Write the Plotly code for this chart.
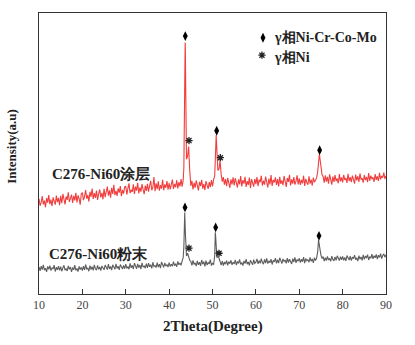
import plotly.graph_objects as go

# ---------------- data ----------------
grid_x = [round(10 + 0.25 * i, 2) for i in range(321)]

coat_grid_y = [
    33.9, 31.4, 32.6, 34.8, 31.9, 33.2, 30.9, 34.1, 32.5, 35.2, 32.0, 33.6, 31.3, 34.4, 33.0, 31.8, 35.0, 32.7, 34.2, 31.6,
    34.9, 32.3, 35.6, 33.1, 31.9, 34.7, 33.5, 36.2, 32.8, 34.0, 35.4, 32.4, 34.9, 33.3, 36.0, 32.6, 35.1, 33.9, 31.8, 35.7,
    36.1, 33.4, 34.7, 37.0, 33.9, 35.3, 32.9, 36.4, 34.6, 37.5, 33.8, 35.9, 34.2, 36.8, 33.5, 35.6, 37.2, 34.4, 36.0, 33.7,
    37.4, 34.5, 36.3, 38.2, 35.0, 36.9, 34.3, 37.8, 35.6, 38.9, 35.2, 36.7, 34.9, 37.6, 36.1, 38.4, 34.8, 37.0, 35.7, 38.1,
    38.3, 35.4, 37.6, 39.4, 35.9, 37.1, 36.3, 39.0, 35.6, 38.2, 36.8, 39.6, 35.8, 37.9, 36.4, 39.1, 37.2, 35.5, 38.6, 36.7,
    39.2, 36.4, 38.5, 40.3, 36.9, 38.0, 41.6, 36.6, 39.4, 37.3, 40.1, 36.8, 38.7, 37.5, 40.6, 36.9, 39.0, 37.8, 40.2, 37.1,
    39.5, 37.2, 38.9, 40.7, 37.4, 39.2, 38.0, 40.5, 37.6, 39.8, 38.3, 40.9, 38.2, 40.6, 58.0, 86.0, 48.0, 49.0, 52.5, 44.0,
    38.5, 40.3, 37.2, 39.6, 37.8, 40.4, 38.1, 36.9, 39.9, 38.4, 40.6, 37.5, 39.1, 37.0, 40.2, 38.6, 37.4, 39.8, 38.0, 40.5,
    38.3, 40.7, 42.0, 53.0, 51.5, 44.0, 44.5, 47.5, 42.5, 40.0, 41.6, 38.9, 40.9, 38.4, 41.3, 39.2, 37.8, 40.8, 39.0, 41.5,
    38.6, 41.2, 39.5, 37.9, 40.8, 39.0, 42.0, 38.3, 40.5, 39.3, 41.7, 38.1, 40.2, 38.8, 41.4, 37.7, 40.9, 39.6, 38.2, 41.0,
    39.1, 41.6, 38.4, 40.7, 39.8, 42.1, 38.6, 40.3, 38.9, 41.8, 39.4, 37.9, 41.1, 39.0, 42.3, 38.5, 40.6, 39.7, 41.5, 38.8,
    40.9, 38.3, 41.7, 39.2, 40.4, 38.7, 42.0, 39.5, 38.1, 41.3, 39.9, 42.4, 38.6, 40.8, 39.3, 41.6, 38.9, 40.1, 42.2, 39.0,
    41.2, 38.8, 40.6, 39.4, 42.1, 38.5, 41.0, 39.7, 38.9, 41.9, 39.3, 40.7, 38.6, 41.4, 39.8, 40.5, 41.3, 43.5, 47.5, 48.5,
    44.5, 42.5, 41.8, 39.6, 42.2, 40.0, 41.7, 39.3, 42.6, 40.4, 38.9, 41.8, 39.9, 42.3, 40.2, 41.1, 39.4, 42.7, 40.1, 41.5,
    39.7, 42.4, 40.6, 41.3, 39.5, 42.8, 40.2, 41.6, 39.8, 42.1, 40.9, 39.3, 42.5, 40.4, 41.9, 39.9, 42.9, 40.7, 41.2, 39.6,
    42.3, 40.5, 41.7, 39.8, 43.0, 40.3, 42.1, 40.9, 41.5, 39.9, 42.7, 40.6, 41.9, 40.2, 43.1, 40.8, 42.0, 41.4, 43.2, 41.0,
    42.0,
]
coat_peak_x = [43.4, 43.6, 43.7, 43.85, 50.65, 50.85, 74.65]
coat_peak_y = [45.0, 78.0, 89.5, 70.0, 48.0, 56.5, 50.0]

powder_grid_y = [
    9.6, 8.2, 9.9, 8.7, 10.4, 8.5, 9.2, 7.9, 9.8, 8.8, 10.1, 8.3, 9.4, 8.9, 10.3, 8.0, 9.5, 8.6, 9.9, 8.4,
    9.7, 8.1, 9.3, 10.2, 8.5, 9.0, 8.2, 10.0, 8.8, 9.6, 7.9, 9.4, 8.6, 10.3, 8.4, 9.1, 8.0, 9.8, 8.7, 9.5,
    8.3, 9.9, 8.6, 10.5, 8.9, 9.2, 8.1, 10.1, 8.7, 9.7, 8.4, 10.4, 9.0, 8.5, 10.2, 8.8, 9.6, 8.3, 10.0, 9.1,
    8.6, 10.3, 9.2, 8.7, 10.6, 8.9, 9.8, 8.5, 10.4, 9.3, 8.8, 10.7, 9.1, 9.9, 8.6, 10.5, 9.4, 8.9, 10.2, 9.0,
    10.6, 9.1, 9.8, 8.8, 10.9, 9.3, 10.2, 8.9, 11.0, 9.5, 9.0, 10.7, 9.4, 10.3, 8.9, 11.1, 9.6, 10.0, 9.2, 10.8,
    9.3, 11.0, 9.7, 10.4, 9.1, 11.3, 9.8, 10.1, 9.4, 11.2, 9.6, 10.6, 9.2, 11.4, 10.0, 9.5, 11.1, 9.9, 10.5, 9.6,
    11.2, 9.8, 10.6, 9.9, 11.5, 10.1, 10.8, 9.7, 11.6, 10.4, 11.0, 10.2, 11.8, 13.0, 24.0, 21.5, 13.5, 14.5, 13.2, 12.0,
    11.6, 10.2, 12.0, 10.5, 11.1, 9.9, 11.8, 10.4, 11.3, 10.0, 12.1, 10.6, 11.5, 9.8, 11.9, 10.3, 11.2, 10.7, 12.2, 10.1,
    11.0, 10.4, 13.5, 20.0, 13.0, 13.3, 12.8, 11.0, 10.3, 11.7, 10.1, 11.4, 10.6, 11.9, 10.2, 11.5, 10.8, 12.0, 10.4, 11.3,
    10.7, 12.1, 10.3, 11.6, 10.9, 12.3, 10.5, 11.2, 10.1, 11.8, 10.8, 12.4, 10.6, 11.4, 10.2, 12.0, 11.0, 10.4, 12.2, 10.9,
    11.3, 12.5, 10.7, 11.9, 10.9, 12.6, 11.2, 10.6, 12.3, 11.0, 12.7, 10.8, 11.8, 11.1, 12.4, 10.5, 12.0, 11.4, 12.8, 10.9,
    12.2, 11.0, 12.9, 11.3, 10.8, 12.5, 11.6, 12.1, 10.9, 12.8, 11.2, 12.4, 11.5, 10.7, 12.6, 11.4, 13.0, 11.1, 12.3, 11.7,
    12.7, 11.2, 12.4, 11.5, 13.1, 11.0, 12.6, 11.8, 12.2, 11.3, 13.0, 11.6, 12.5, 11.1, 12.9, 11.9, 12.8, 15.0, 18.5, 16.0,
    13.8, 12.6, 13.3, 11.7, 12.9, 11.9, 13.4, 12.1, 12.7, 11.6, 13.5, 12.3, 11.8, 13.2, 12.0, 13.6, 12.4, 11.9, 13.3, 12.2,
    13.4, 12.0, 13.0, 11.8, 13.7, 12.5, 12.1, 13.5, 11.9, 13.1, 12.6, 13.8, 12.2, 12.9, 11.7, 13.6, 12.4, 13.2, 12.0, 13.9,
    12.3, 13.5, 12.8, 14.0, 12.1, 13.3, 12.7, 14.2, 12.5, 13.6, 12.9, 14.1, 12.4, 13.8, 13.0, 14.4, 12.6, 13.7, 14.3, 13.1,
    14.0,
]
powder_peak_x = [43.4, 43.6, 50.65, 74.45]
powder_peak_y = [17.0, 29.0, 22.0, 19.2]

assert len(coat_grid_y) == len(grid_x) and len(powder_grid_y) == len(grid_x)

# phase markers
coat_dia_x = [43.73, 50.96, 74.7]
coat_dia_y = [91.8, 58.1, 51.2]
coat_ast_x = [44.58, 51.8]
coat_ast_y = [54.6, 48.5]
powder_dia_x = [43.66, 50.73, 74.55]
powder_dia_y = [30.8, 23.7, 20.7]
powder_ast_x = [44.58, 51.5]
powder_ast_y = [16.3, 14.5]

x_ticks = [10, 20, 30, 40, 50, 60, 70, 80, 90]
sample_labels = ["C276-Ni60涂层", "C276-Ni60粉末"]
legend_labels = ["γ相Ni-Cr-Co-Mo", "γ相Ni"]


def merge(gx, gy, px, py):
    pts = sorted(list(zip(gx, gy)) + list(zip(px, py)))
    return [p[0] for p in pts], [p[1] for p in pts]


cx, cy = merge(grid_x, coat_grid_y, coat_peak_x, coat_peak_y)
px_, py_ = merge(grid_x, powder_grid_y, powder_peak_x, powder_peak_y)

SERIF = "Liberation Serif"

fig = go.Figure()
fig.add_trace(go.Scatter(x=cx, y=cy, mode="lines",
                         line=dict(color="rgba(240,40,40,0.9)", width=1.1), showlegend=False))
fig.add_trace(go.Scatter(x=px_, y=py_, mode="lines",
                         line=dict(color="rgba(75,75,75,0.9)", width=1.1), showlegend=False))

dia_x = coat_dia_x + powder_dia_x + [61.64]
dia_y = coat_dia_y + powder_dia_y + [91.2]
fig.add_trace(go.Scatter(x=dia_x, y=dia_y, mode="markers",
                         marker=dict(symbol="diamond-tall", size=7, color="black"),
                         showlegend=False))

ast_x = coat_ast_x + powder_ast_x + [61.4]
ast_y = coat_ast_y + powder_ast_y + [85.0]
fig.add_trace(go.Scatter(x=ast_x, y=ast_y, mode="markers",
                         marker=dict(symbol="asterisk-open", size=6, color="#222",
                                     line=dict(color="#222", width=1.3)),
                         showlegend=False))

annotations = [
    dict(x=12.54, y=42.7, text="<b>" + sample_labels[0] + "</b>", xanchor="left", yanchor="middle",
         showarrow=False, font=dict(family=SERIF, size=15, color="#222")),
    dict(x=11.84, y=14.2, text="<b>" + sample_labels[1] + "</b>", xanchor="left", yanchor="middle",
         showarrow=False, font=dict(family=SERIF, size=15, color="#222")),
    dict(x=63.7, y=91.2, text="<b>" + legend_labels[0] + "</b>", xanchor="left", yanchor="middle",
         showarrow=False, font=dict(family=SERIF, size=14, color="#222")),
    dict(x=63.7, y=84.2, text="<b>" + legend_labels[1] + "</b>", xanchor="left", yanchor="middle",
         showarrow=False, font=dict(family=SERIF, size=14, color="#222")),
    dict(xref="paper", yref="paper", x=0.5, y=-0.114, text="<b>2Theta(Degree)</b>",
         xanchor="center", yanchor="middle", showarrow=False,
         font=dict(family=SERIF, size=15, color="#222")),
    dict(xref="paper", yref="paper", x=-0.078, y=0.527, text="<b>Intensity(a.u)</b>",
         textangle=-90, xanchor="center", yanchor="middle", showarrow=False,
         font=dict(family=SERIF, size=13, color="#222")),
]

fig.update_layout(
    width=415, height=345,
    margin=dict(l=39, r=29, t=13, b=51),
    paper_bgcolor="white", plot_bgcolor="white",
    font=dict(family=SERIF),
    annotations=annotations,
    xaxis=dict(range=[10, 90], tickvals=x_ticks, ticks="inside", ticklen=5, tickwidth=1,
               tickcolor="#333", showline=True, linecolor="#333", linewidth=1, mirror=True,
               showgrid=False, zeroline=False,
               tickfont=dict(family=SERIF, size=12, color="#444")),
    yaxis=dict(range=[0, 100], showticklabels=False, ticks="", showline=True, linecolor="#333",
               linewidth=1, mirror=True, showgrid=False, zeroline=False),
)

fig.write_html("out.html")
